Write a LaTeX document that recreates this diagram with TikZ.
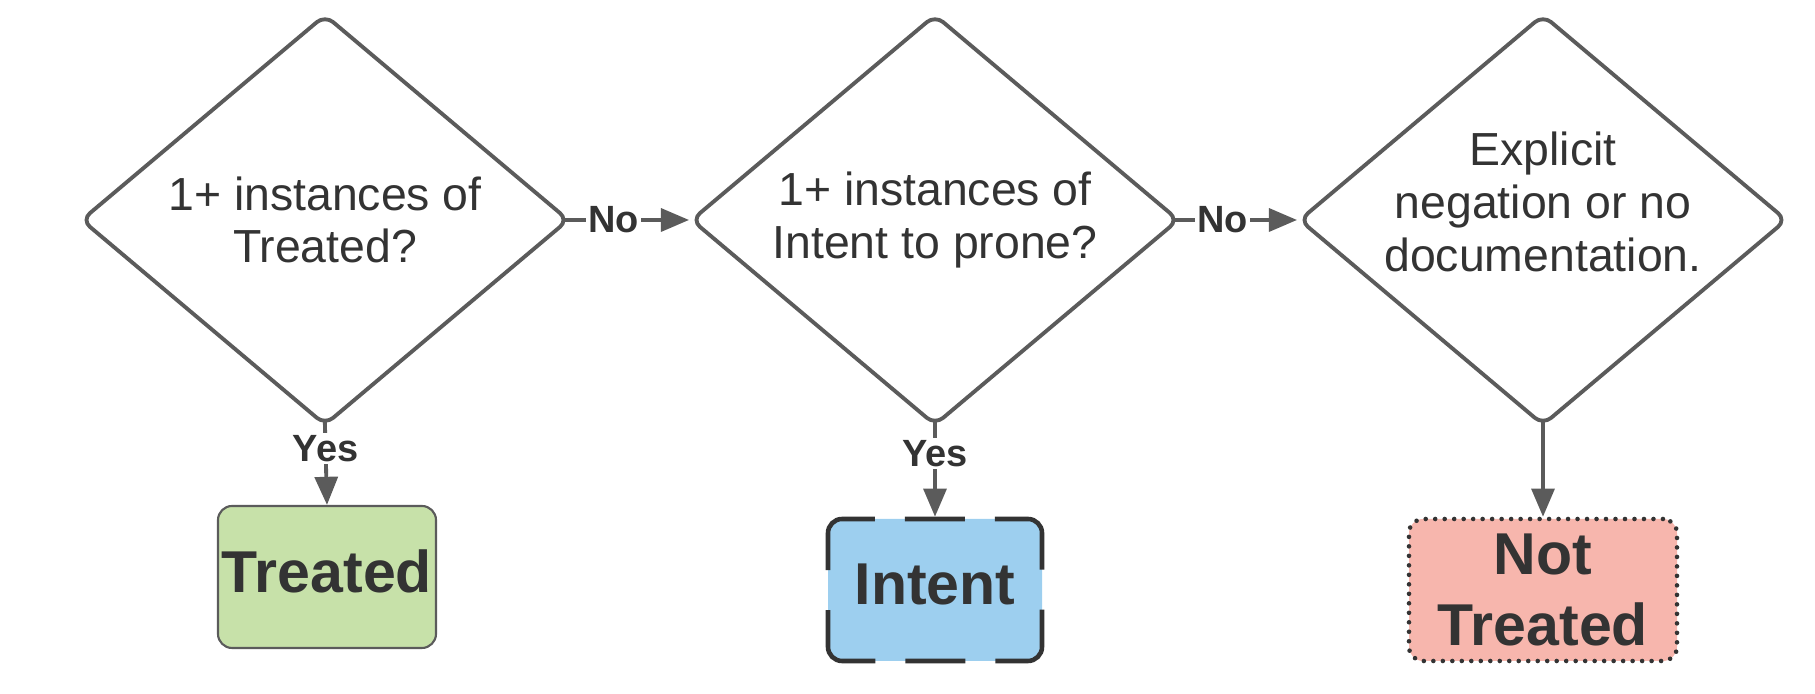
\documentclass[tikz,border=0pt]{standalone}
\usepackage{fontspec}
\setmainfont{Liberation Sans}
\usetikzlibrary{arrows.meta,shapes.geometric}
\definecolor{linegray}{HTML}{5B5B5B}
\definecolor{inkgray}{HTML}{333333}
\definecolor{treatgreen}{HTML}{C7E1A9}
\definecolor{intentblue}{HTML}{9DCFEF}
\definecolor{notred}{HTML}{F7B6AD}

\begin{document}
\begin{tikzpicture}
\tikzstyle{dec}=[diamond, draw=linegray, line width=1.1pt, rounded corners=3pt, aspect=1.19, minimum width=4.88cm, minimum height=4.11cm, inner sep=0pt, align=center, text=inkgray, node distance=6.10cm, font=\fontsize{13.2}{15}\selectfont]
\tikzstyle{rect}=[rectangle, rounded corners=4pt, minimum height=1.42cm, inner xsep=1pt, align=center, text=inkgray, font=\bfseries\fontsize{16.8}{20}\selectfont]
\tikzstyle{connect}=[-{Triangle[length=8pt,width=6.5pt]}, line width=1.1pt, draw=linegray, shorten <=-2pt]
\tikzstyle{lab}=[fill=white, inner sep=0.6pt, text=inkgray, font=\bfseries\fontsize{10.8}{12}\selectfont]
% long dashes over the corners, short ones in the middle of the long sides
\tikzstyle{longdash}=[dash pattern=on 17.07pt off 8.54pt on 26.18pt off 11.38pt on 26.21pt off 8.54pt on 17.07pt off 8.54pt on 26.15pt off 11.38pt on 26.18pt off 8.54pt, dash phase=177.86pt]

  \useasboundingbox (0,0) rectangle (18.15,-6.94);

  % the three questions
  \node[dec] (treatedq) at (3.25,-2.20)        {1+ instances of\\Treated?};
  \node[dec] (intentq)  [right of =treatedq]   {1+ instances of\\Intent to prone?};
  \node[dec] (negq)     [right of =intentq, xshift=-0.02cm] {};
  \node[text=inkgray, align=center, font=\fontsize{13.2}{15}\selectfont] (negtext) at ([yshift=0.18cm]negq) {Explicit\\negation or no\\documentation.};

  % outcomes
  \node[rect, draw=linegray, line width=0.6pt, fill=treatgreen, minimum width=2.18cm] (treated) [below of =treatedq, node distance=3.57cm, xshift=0.02cm] {\raisebox{1.7pt}[\height][\depth]{Treated}};
  \node[rect, longdash, draw=inkgray, line width=1.3pt, fill=intentblue, minimum width=2.14cm] (intent) [below of =intentq, node distance=3.70cm] {\raisebox{1.7pt}[\height][\depth]{Intent}};
  \node[rect, draw=inkgray, line width=1.3pt, dash pattern=on 0pt off 2.7pt, line cap=round, fill=notred, minimum width=2.68cm] (nottreated) [below of =negq, node distance=3.70cm] {Not\\Treated};

  \path (treatedq.east) edge [connect] node [lab, pos=0.36] {No} (intentq.west);
  \path (intentq.east)  edge [connect] node [lab, pos=0.36] {No} (negq.west);

  \path (treatedq.south) edge [connect] node [lab, pos=0.27] {Yes} (treated.north);
  \path (intentq.south)  edge [connect] node [lab, pos=0.29] {Yes} (intent.north);
  \path (negq.south)     edge [connect] (nottreated.north);

\end{tikzpicture}
\end{document}
